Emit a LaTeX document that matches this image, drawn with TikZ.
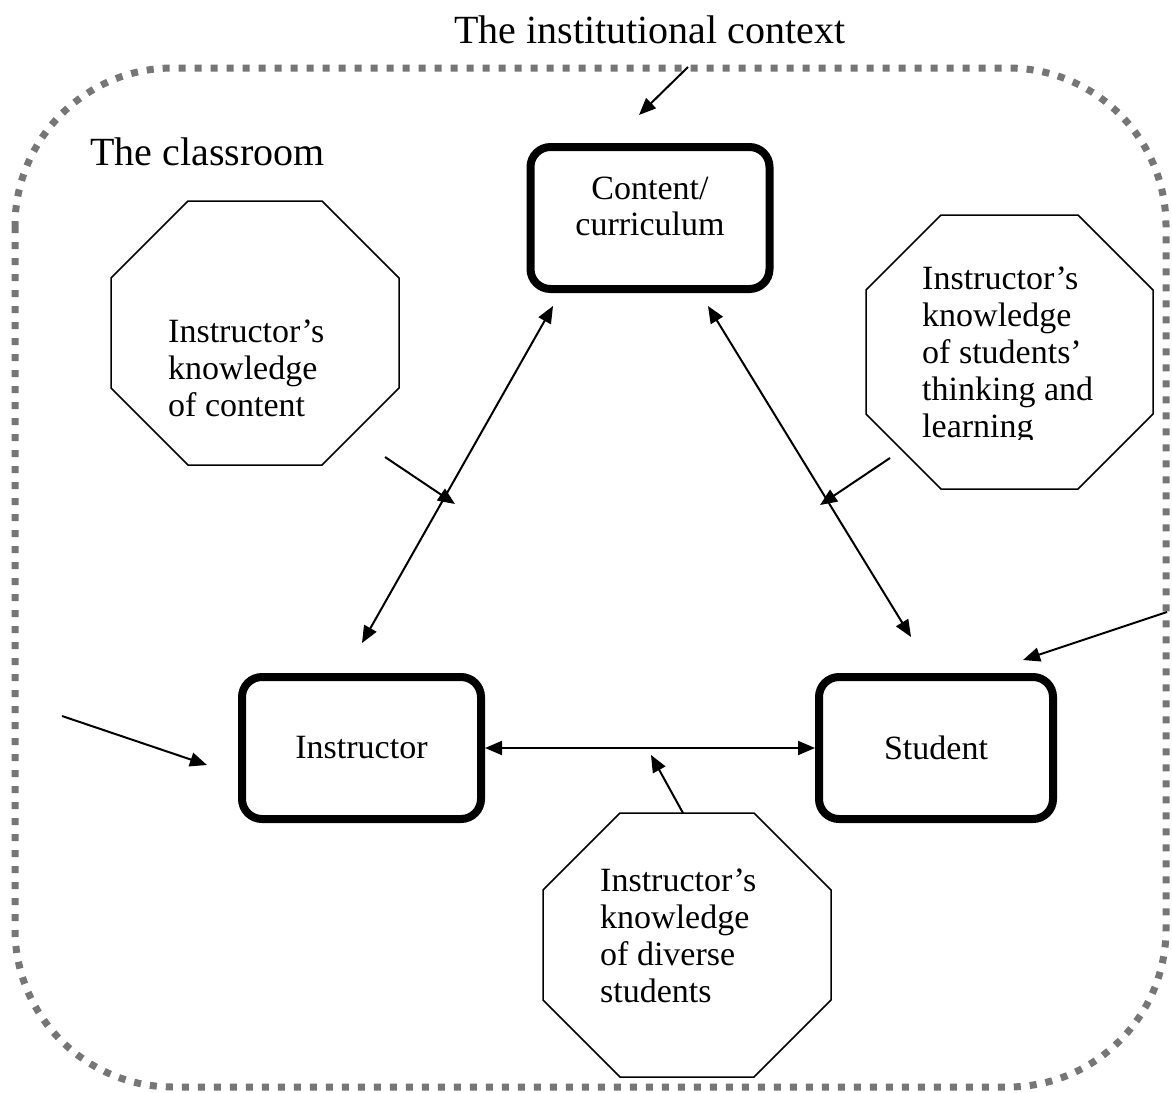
\documentclass[tikz,border=0pt]{standalone}
\usepackage{fontspec}
\setmainfont{Liberation Serif}
\usetikzlibrary{arrows.meta,calc}
\definecolor{bordergray}{RGB}{118,118,118}
\newcommand\octagonof[2]{%
  \draw[octline] ([xshift=#2]#1.north west) -- ([xshift=-#2]#1.north east)
    -- ([yshift=-#2]#1.north east) -- ([yshift=#2]#1.south east)
    -- ([xshift=-#2]#1.south east) -- ([xshift=#2]#1.south west)
    -- ([yshift=#2]#1.south west) -- ([yshift=-#2]#1.north west) -- cycle;}
\begin{document}
\begin{tikzpicture}[x=1pt,y=-1pt,
  boxnode/.style={draw, line width=8pt, rounded corners=20pt, minimum width=239pt,
    minimum height=142pt, inner sep=0pt, font=\fontsize{34}{37}\selectfont},
  octnode/.style={rectangle, minimum width=288pt, minimum height=264pt, inner sep=0pt, outer sep=0pt},
  octline/.style={line width=1.5pt},
  otext/.style={align=left, inner sep=0pt, anchor=base west, font=\fontsize{34}{37}\selectfont},
  arr/.style={line width=2pt, -{Triangle[length=17pt,width=14pt]}},
  darr/.style={line width=2pt, {Triangle[length=17pt,width=14pt]}-{Triangle[length=17pt,width=14pt]}},
  borderline/.style={draw=bordergray, line width=7pt, dash pattern=on 7pt off 9pt, rounded corners=158pt}]
\useasboundingbox (0,0) rectangle (1172,1092);
\fill[white] (0,0) rectangle (1172,1092);

% outer dashed border
\draw[borderline] (15,68) rectangle (1166,1087);

% titles
\node[anchor=base, inner sep=0pt, font=\fontsize{40}{48}\selectfont] (title) at (650,43) {The institutional context};
\node[anchor=base west, inner sep=0pt, font=\fontsize{40}{48}\selectfont] (classroom) at (90,165) {The classroom};

% main boxes
\node[boxnode, label={[name=ctext, align=center, inner sep=0pt, font=\fontsize{34}{36}\selectfont, yshift=12pt]center:{Content/\\curriculum}}] (content) at (650,218) {};
\node[boxnode] (instr) at (361.5,748) {Instructor};
\node[boxnode, minimum width=234pt] (stud) at (936,748) {Student};

% octagons
\node[octnode] (octl) at (255,333) {};
\octagonof{octl}{77pt}
\node[otext] (octltext) at (168,416) {Instructor’s\\knowledge\\of content};

\node[octnode, minimum width=287pt, minimum height=274pt] (octr) at (1009.5,352) {};
\octagonof{octr}{75pt}
\begin{scope}
\clip (860,210) rectangle (1160,439);
\node[otext] (octrtext) at (922,437) {Instructor’s\\knowledge\\of students’\\thinking and\\learning};
\end{scope}

\node[octnode] (octb) at (687,945) {};
\octagonof{octb}{77pt}
\node[otext] (octbtext) at (600,1002) {Instructor’s\\knowledge\\of diverse\\students};

% connector end points
\coordinate (t0) at (688,67);   \coordinate (t1) at (639,115);
\coordinate (ci1) at (553,306); \coordinate (ci2) at (362,643);
\coordinate (cs1) at (708,306); \coordinate (cs2) at (911,637);
\coordinate (k0) at (385,457);  \coordinate (k1) at (455,504);
\coordinate (r0) at (890,458);  \coordinate (r1) at (820,505);
\coordinate (b1) at (651,755);
\coordinate (l0) at (62,716);   \coordinate (l1) at (207,765);
\coordinate (e0) at (1167,612); \coordinate (e1) at (1023,660);

% connectors
\draw[arr] (t0) -- (t1);
\draw[darr] (ci1) -- (ci2);
\draw[darr] (cs1) -- (cs2);
\draw[darr] (instr) -- (stud);
\draw[arr] (k0) -- (k1);
\draw[arr] (r0) -- (r1);
\draw[arr] ($(octb.north)+(-4,0)$) -- (b1);
\draw[arr] (l0) -- (l1);
\draw[arr] (e0) -- (e1);
\end{tikzpicture}
\end{document}
